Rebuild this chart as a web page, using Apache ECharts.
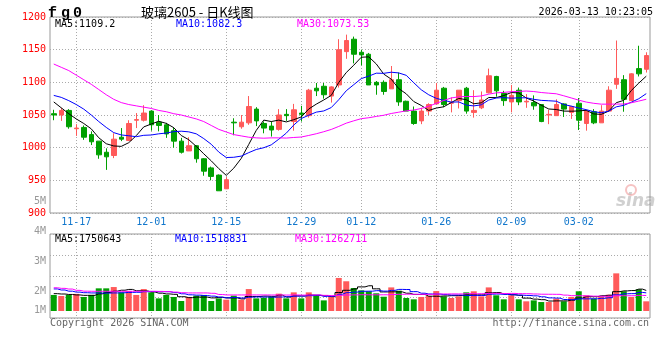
<!DOCTYPE html>
<html><head><meta charset="utf-8">
<script src="https://cdn.jsdelivr.net/npm/echarts@6.0.0/dist/echarts.min.js"></script>
<style>html,body{margin:0;padding:0;background:#fff}#c{width:660px;height:360px}</style>
</head><body><div id="c"></div>
<script>
// ---------------- data ----------------
const dates = ['11-12','11-13','11-14','11-17','11-18','11-19','11-20','11-21','11-24','11-25','11-26','11-27','11-28',
'12-01','12-02','12-03','12-04','12-05','12-08','12-09','12-10','12-11','12-12','12-15','12-16','12-17','12-18','12-19','12-22','12-23','12-24','12-25','12-26','12-29','12-30','12-31',
'01-05','01-06','01-07','01-08','01-09','01-12','01-13','01-14','01-15','01-16','01-19','01-20','01-21','01-22','01-23','01-26','01-27','01-28','01-29','01-30',
'02-02','02-03','02-04','02-05','02-06','02-09','02-10','02-11','02-12','02-13','02-24','02-25','02-26','02-27',
'03-02','03-03','03-04','03-05','03-06','03-09','03-10','03-11','03-12','03-13'];

const opens = [1052,1050,1057,1029,1031,1020,1010,993,988,1016,
1011,1042,1042,1056,1039,1035,1026,1010,995,1003,
983,969,958,937,1039,1032,1038,1059,1037,1033,
1028,1051,1040,1053,1049,1091,1094,1079,1096,1147,
1166,1146,1143,1100,1100,1090,1104,1071,1056,1041,
1056,1067,1091,1068,1072,1091,1054,1061,1084,1109,
1083,1070,1088,1070,1069,1066,1050,1049,1067,1054,
1068,1037,1055,1038,1056,1097,1104,1072,1121,1120];

const closes = [1050,1057,1032,1030,1016,1009,989,986,1013,1013,
1037,1043,1053,1035,1034,1021,1010,993,1003,983,
964,956,934,951,1038,1039,1063,1041,1030,1027,
1050,1049,1058,1051,1088,1087,1081,1093,1150,1164,
1143,1142,1096,1096,1086,1104,1070,1056,1037,1056,
1066,1088,1066,1069,1088,1056,1057,1073,1110,1087,
1072,1080,1070,1071,1064,1040,1051,1066,1059,1063,
1042,1056,1038,1056,1088,1106,1074,1113,1113,1141];

const lows = [1042,1041,1029,1018,1012,1004,983,966,984,1010,
1010,1030,1040,1026,1025,1015,1000,991,995,977,
957,950,934,937,1019,1029,1035,1033,1022,1017,
1026,1041,1026,1040,1046,1079,1075,1069,1092,1136,
1129,1126,1096,1081,1081,1090,1064,1056,1035,1036,
1050,1066,1062,1054,1060,1052,1046,1059,1083,1078,
1064,1054,1065,1061,1058,1039,1036,1049,1047,1044,
1027,1026,1036,1038,1055,1090,1055,1072,1109,1115];

const highs = [1058,1061,1059,1036,1034,1025,1010,999,1022,1030,
1042,1053,1065,1057,1050,1038,1031,1015,1016,1004,
984,971,959,955,1045,1050,1079,1062,1040,1040,
1059,1059,1067,1064,1090,1099,1099,1094,1166,1173,
1170,1150,1145,1102,1103,1125,1115,1072,1063,1061,
1068,1099,1093,1077,1088,1093,1088,1086,1121,1110,
1087,1096,1092,1082,1080,1066,1058,1074,1068,1064,
1076,1058,1059,1065,1094,1164,1111,1114,1156,1146];

const ma5 = [1070,1061,1052,1044,
1037,1028.8,1015.2,1006,1002.6,1002,1007.6,1018.4,1031.8,1036.2,
1040.4,1037.2,1030.6,1018.6,1012.2,1002,990.6,979.8,968,957.6,
968.6,983.6,1005,1026.4,1042.2,1040,1042.2,1039.4,1042.8,1047,
1059.2,1066.6,1073,1080,1099.8,1115,1126.2,1138.4,1139,1128.2,
1112.6,1104.8,1090.4,1082.4,1070.6,1064.6,1057,1060.6,1062.6,1069,
1075.4,1073.4,1067.2,1068.6,1076.8,1076.6,1079.8,1084.4,1083.8,1076,
1071.4,1065,1059.2,1058.4,1056,1055.8,1056.2,1057.2,1051.6,1051,
1056,1068.8,1072.4,1087.4,1098.8,1109.4];

const ma10 = [1080,1077,1072,1066,1059,1050,1040,1031,1023,
1019.5,1018.2,1016.8,1018.9,1019.4,1021.2,1022.4,1024.5,1025.2,1024.2,
1021.2,1013.9,1005.2,993.3,984.9,985.3,987.1,992.4,997.2,999.9,
1004.3,1012.9,1022.2,1034.6,1044.6,1049.6,1054.4,1056.2,1061.4,1073.4,
1087.1,1096.4,1105.7,1109.5,1114,1113.8,1115.5,1114.4,1110.7,1099.4,
1088.6,1080.9,1075.5,1072.5,1069.8,1070,1065.2,1063.9,1065.6,1072.9,
1076,1076.6,1075.8,1076.2,1076.4,1074,1072.4,1071.8,1071.1,1066,
1063.6,1060.6,1058.2,1055,1053.5,1055.9,1062.5,1064.8,1069.5,1074.9,1082.7];

const ma30 = [1128,1123,1118,1111,1104,1097,1089,1081,1074,1069,
1066,1064,1062,1060,1057,1055,1052,1050,1047,1044,
1040,1034,1028,1024,1020,1018,1016,1015,1014.5,
1015,1015,1014.7,1015.6,1016.3,1018.7,1021.3,1024.4,1027.9,1032.5,
1037.5,1041.1,1044.4,1045.8,1047.8,1049.6,1052.3,1054.3,1056.4,1057.6,
1060,1063.4,1067.8,1072.2,1076.1,1077.8,1078.4,1078.2,1079.2,1081.9,
1083.9,1084.6,1085.7,1086.1,1086.7,1085.9,1084.4,1083.4,1082.5,1079.4,
1076.1,1072.7,1069.8,1067.9,1066.6,1066.6,1066.7,1066.8,1068.7,1071.3,1074.1];

const volumes = [1360000,1270000,1360000,1450000,1190000,1360000,1920000,1920000,2030000,1580000,
1690000,1360000,1860000,1580000,1070000,1360000,1190000,850000,1190000,1300000,
1360000,850000,1070000,960000,1300000,960000,1860000,1070000,1130000,1190000,
1470000,1070000,1580000,1070000,1580000,1360000,900000,1190000,2800000,2520000,
1950000,1750000,1670000,1500000,1210000,2000000,1720000,1100000,990000,1190000,
1270000,1690000,1240000,1100000,1240000,1580000,1670000,1240000,2000000,1330000,
990000,1330000,990000,820000,900000,760000,760000,1050000,820000,1190000,
1670000,1330000,1050000,1240000,1380000,3190000,1670000,1190000,1840000,820000];

const volMa5 = [1470000,1440000,1400000,1360000,
1326000,1326000,1456000,1568000,1684000,1762000,1828000,1716000,1704000,1614000,
1512000,1446000,1412000,1210000,1132000,1178000,1178000,1110000,1154000,1108000,
1108000,1028000,1230000,1230000,1264000,1242000,1344000,1186000,1288000,1276000,
1354000,1332000,1298000,1220000,1566000,1754000,1872000,2042000,2138000,1878000,
1616000,1626000,1620000,1506000,1404000,1400000,1254000,1248000,1276000,1298000,
1308000,1370000,1366000,1366000,1546000,1564000,1446000,1378000,1328000,1092000,
1006000,960000,846000,858000,858000,916000,1098000,1212000,1212000,1296000,
1334000,1638000,1706000,1734000,1854000,1742000];

const volMa10 = [1870000,1780000,1680000,1600000,1550000,1530000,1520000,1520000,1530000,
1544000,1577000,1586000,1636000,1649000,1637000,1637000,1564000,1457000,1373000,
1345000,1312000,1261000,1182000,1120000,1143000,1103000,1170000,1192000,1186000,
1175000,1186000,1208000,1259000,1270000,1298000,1338000,1242000,1254000,1421000,
1554000,1602000,1670000,1679000,1722000,1685000,1749000,1831000,1822000,1641000,
1508000,1440000,1434000,1391000,1351000,1354000,1312000,1307000,1321000,1422000,
1436000,1408000,1372000,1347000,1319000,1285000,1203000,1112000,1093000,975000,
961000,1029000,1029000,1035000,1077000,1125000,1368000,1459000,1473000,1575000,1538000];

const volMa30 = [1970000,1920000,1860000,1750000,1680000,1670000,1670000,1670000,1670000,1670000,
1670000,1670000,1670000,1670000,1660000,1640000,1600000,1550000,1530000,1530000,
1530000,1500000,1400000,1360000,1360000,1360000,1360000,1360000,1360000,
1355000,1358000,1352000,1359000,1346000,1359000,1359000,1325000,1301000,1327000,
1358000,1367000,1380000,1373000,1371000,1375000,1397000,1414000,1423000,1416000,
1412000,1409000,1437000,1443000,1448000,1446000,1466000,1460000,1466000,1495000,
1499000,1483000,1492000,1472000,1464000,1441000,1421000,1417000,1412000,1346000,
1302000,1292000,1278000,1258000,1249000,1255000,1294000,1293000,1296000,1324000,1312000];

const xTickLabels = ['11-17','12-01','12-15','12-29','01-12','01-26','02-09','03-02'];
const volTickLabels = ['5M','4M','3M','2M','1M'];

// ---------------- layout / style ----------------
const RED = '#ff5a5a', GREEN = '#00a000';
const MONO = '"DejaVu Sans Mono", monospace';
const FONT10 = '10px ' + MONO;
const volLabelY = [201, 231, 261, 291, 310];
const tickSet = new Set(xTickLabels);
const isTick = (i) => tickSet.has(dates[i]);
const dotted = { color: '#aaa', type: [1, 2], width: 1 };

function xAxisFor(gi, withLabels) {
  return {
    type: 'category', gridIndex: gi, data: dates, boundaryGap: true,
    axisLine: { show: false }, axisTick: { show: false },
    axisLabel: withLabels ? { show: true, interval: isTick, color: '#1177cc', fontFamily: MONO, fontSize: 10, margin: 4 } : { show: false },
    splitLine: { show: true, interval: isTick, alignWithLabel: true, lineStyle: dotted }
  };
}
function lineSeries(data, color, xi, yi, step) {
  return { type: 'line', xAxisIndex: xi, yAxisIndex: yi, data: data, symbol: 'none', step: step || false,
    lineStyle: { color: color, width: 1 }, itemStyle: { color: color }, silent: true, z: 3 };
}
function txt(text, x, y, color, font, align) {
  return { type: 'text', x: x, y: y, silent: true, z: 10,
    style: { text: text, fill: color, font: font || FONT10, align: align || 'left', verticalAlign: 'middle' } };
}

const graphics = [
  txt('f', 48, 13, '#000', 'bold 15px "Liberation Mono"'),
  txt('g', 61, 13, '#000', 'bold 15px "Liberation Mono"'),
  txt('0', 73, 13, '#000', 'bold 15px "Liberation Mono"'),
  txt('玻璃2605 - 日K线图', 141, 12, '#000', '13px "Noto Sans CJK SC"'),
  txt('2026-03-13 10:23:05', 653, 12, '#000', FONT10, 'right'),
  txt('MA5:1109.2', 55, 24, '#000'),
  txt('MA10:1082.3', 176, 24, '#0000ff'),
  txt('MA30:1073.53', 297, 24, '#ff00ff'),
  txt('MA5:1750643', 55, 239.5, '#000'),
  txt('MA10:1518831', 175, 239.5, '#0000ff'),
  txt('MA30:1262711', 295, 239.5, '#ff00ff'),
  txt('Copyright 2026 SINA.COM', 50, 323, '#666'),
  txt('http://finance.sina.com.cn', 649, 323, '#666', FONT10, 'right'),
  { type: 'circle', shape: { cx: 631, cy: 190, r: 5 }, silent: true,
    style: { fill: 'none', stroke: 'rgba(235,120,120,0.45)', lineWidth: 2 } },
  txt('sina', 616, 202, 'rgba(150,150,150,0.45)', 'italic bold 17px "DejaVu Sans"')
];
volTickLabels.forEach((t, k) => graphics.push(txt(t, 46, volLabelY[k], '#999', FONT10, 'right')));

const option = {
  animation: false,
  backgroundColor: '#fff',
  grid: [
    { left: 50, top: 17, width: 600, height: 196, show: true, borderColor: '#999', borderWidth: 1 },
    { left: 50, top: 234, width: 600, height: 84, show: true, borderColor: '#999', borderWidth: 1 }
  ],
  xAxis: [xAxisFor(0, true), xAxisFor(1, false)],
  yAxis: [
    { type: 'value', gridIndex: 0, min: 900, max: 1200, interval: 50,
      axisLine: { show: false }, axisTick: { show: false },
      axisLabel: { color: '#ff0000', fontFamily: MONO, fontSize: 10, margin: 4, formatter: (v) => String(v) },
      splitLine: { show: true, lineStyle: dotted } },
    { type: 'value', gridIndex: 1, min: -593000, max: 6525000, show: false, splitLine: { show: false } },
    { type: 'value', gridIndex: 1, min: 0, max: 4, interval: 1, position: 'left',
      axisLine: { show: false }, axisTick: { show: false }, axisLabel: { show: false },
      splitLine: { show: true, lineStyle: dotted } }
  ],
  series: [
    { type: 'candlestick', xAxisIndex: 0, yAxisIndex: 0, barWidth: 5,
      data: dates.map((d, i) => [opens[i], closes[i], lows[i], highs[i]]),
      itemStyle: { color: RED, color0: GREEN, borderColor: RED, borderColor0: GREEN, borderWidth: 1 } },
    lineSeries(ma5, '#000000', 0, 0),
    lineSeries(ma10, '#0000ff', 0, 0),
    lineSeries(ma30, '#ff00ff', 0, 0),
    { type: 'bar', xAxisIndex: 1, yAxisIndex: 1, barWidth: 6,
      data: volumes.map((v, i) => ({ value: v, itemStyle: { color: closes[i] >= opens[i] ? RED : GREEN } })) },
    lineSeries(volMa5, '#000000', 1, 1, 'middle'),
    lineSeries(volMa10, '#0000ff', 1, 1, 'middle'),
    lineSeries(volMa30, '#ff00ff', 1, 1, 'middle')
  ],
  graphic: graphics
};
const chart = echarts.init(document.getElementById('c'));
chart.setOption(option);
</script></body></html>
